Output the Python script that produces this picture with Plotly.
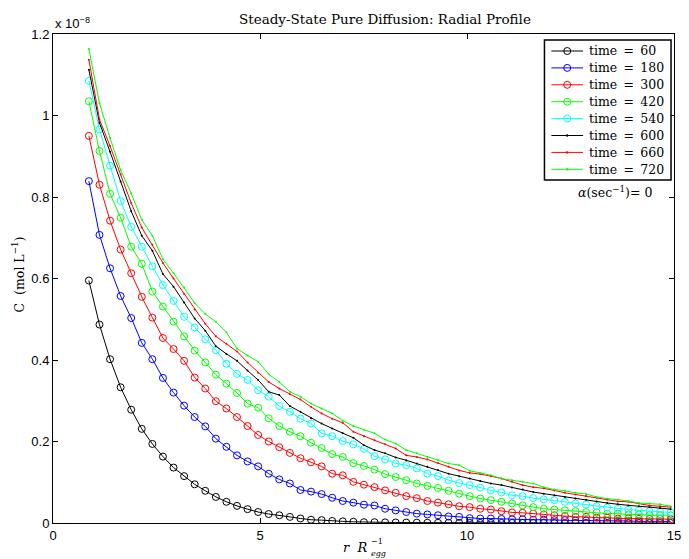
import numpy as np
import plotly.graph_objects as go

# radial positions (r / R_egg), 56 evenly spaced samples
r_start, r_end, n_pts = 0.867, 14.92, 56
r = np.linspace(r_start, r_end, n_pts)

times = [60, 180, 300, 420, 540, 600, 660, 720]

# concentrations in units of 1e-8 mol/L
c_60 = [0.595, 0.487, 0.402, 0.333, 0.278, 0.231, 0.194, 0.163, 0.136, 0.115, 0.095, 0.079, 0.064, 0.052, 0.042, 0.034, 0.027,
        0.022, 0.019, 0.015, 0.011, 0.008, 0.007, 0.005, 0.004, 0.003, 0.002,
        0.002, 0.0015, 0.0012, 0.001, 0.0008, 0.0006, 0.0005, 0.0004, 0.0003, 0.0003, 0.0002, 0.0002, 0.0001, 0.0001,
        0.0001, 0.0001, 0.0001, 0, 0, 0, 0, 0, 0, 0, 0, 0, 0, 0, 0]
c_180 = [0.839, 0.707, 0.625, 0.557, 0.503, 0.442, 0.402, 0.356, 0.320, 0.288, 0.260, 0.237, 0.207, 0.187, 0.166, 0.151, 0.139,
         0.121, 0.107, 0.097, 0.081, 0.077, 0.071, 0.062, 0.054, 0.050, 0.045,
         0.043, 0.035, 0.031, 0.027, 0.023, 0.021, 0.019, 0.016, 0.015, 0.012,
         0.011, 0.011, 0.010, 0.009, 0.009, 0.008, 0.008, 0.007, 0.007, 0.006, 0.006, 0.006, 0.005, 0.005, 0.005,
         0.004, 0.004, 0.004, 0.004]
c_300 = [0.950, 0.830, 0.742, 0.671, 0.613, 0.555, 0.504, 0.454, 0.427, 0.398, 0.357, 0.330, 0.299, 0.281, 0.260, 0.238, 0.216,
         0.200, 0.186, 0.172, 0.159, 0.149, 0.139, 0.121, 0.117, 0.101, 0.094,
         0.088, 0.080, 0.074, 0.066, 0.061, 0.054,
         0.050, 0.046, 0.041, 0.039, 0.035, 0.033, 0.029, 0.026, 0.025, 0.023, 0.021, 0.019, 0.017, 0.015, 0.015,
         0.013, 0.013, 0.011, 0.011, 0.010, 0.010, 0.010, 0.009]
c_420 = [1.035, 0.913, 0.808, 0.749, 0.678, 0.636, 0.568, 0.531, 0.494, 0.458, 0.423, 0.394, 0.364, 0.342, 0.319, 0.293, 0.283,
         0.257, 0.238, 0.224, 0.213, 0.197, 0.184, 0.169, 0.162, 0.147, 0.140,
         0.131, 0.120, 0.113, 0.105, 0.097, 0.091,
         0.086, 0.079, 0.072, 0.066, 0.060, 0.056, 0.052, 0.048, 0.043, 0.039, 0.035, 0.033, 0.031, 0.029, 0.027,
         0.026, 0.023, 0.023, 0.021, 0.021, 0.019, 0.019, 0.019]
c_540 = [1.085, 0.966, 0.877, 0.790, 0.727, 0.678, 0.630, 0.584, 0.545, 0.506, 0.480, 0.451, 0.424, 0.391, 0.366, 0.351, 0.326,
         0.310, 0.287, 0.273, 0.256, 0.244, 0.220, 0.213, 0.201, 0.193, 0.182,
         0.164, 0.156, 0.146, 0.142, 0.134, 0.121,
         0.115, 0.105, 0.098, 0.093, 0.087, 0.080, 0.075, 0.068, 0.066, 0.061, 0.058, 0.056, 0.052, 0.048, 0.045,
         0.041, 0.038, 0.035, 0.033, 0.031, 0.029, 0.027, 0.026]
c_600 = [1.112, 0.982, 0.911, 0.838, 0.765, 0.705, 0.668, 0.611, 0.580, 0.541, 0.502, 0.472, 0.434, 0.415, 0.398, 0.374, 0.351,
         0.322, 0.314, 0.287, 0.273, 0.257, 0.244, 0.232, 0.220, 0.209, 0.191,
         0.179, 0.171, 0.161, 0.154, 0.146, 0.138,
         0.130, 0.121, 0.115, 0.109, 0.103, 0.097, 0.093, 0.087, 0.082, 0.076, 0.072, 0.068, 0.064, 0.060, 0.057,
         0.053, 0.049, 0.046, 0.043, 0.041, 0.039, 0.037, 0.034]
c_660 = [1.137, 0.990, 0.925, 0.855, 0.785, 0.725, 0.683, 0.638, 0.600, 0.562, 0.524, 0.489, 0.458, 0.440, 0.421, 0.394, 0.369,
         0.346, 0.330, 0.316, 0.303, 0.285, 0.269, 0.256, 0.246, 0.224, 0.213,
         0.203, 0.193, 0.183, 0.166, 0.162, 0.156,
         0.147, 0.138, 0.129, 0.123, 0.120, 0.115, 0.109, 0.101, 0.093, 0.088, 0.085, 0.080, 0.074, 0.070, 0.066,
         0.062, 0.057, 0.053, 0.052, 0.048, 0.043, 0.041, 0.039]
c_720 = [1.163, 1.030, 0.945, 0.866, 0.809, 0.744, 0.705, 0.647, 0.613, 0.578, 0.540, 0.513, 0.494, 0.468, 0.428, 0.411, 0.396,
         0.365, 0.346, 0.322, 0.310, 0.293, 0.281, 0.269, 0.251, 0.238, 0.229,
         0.220, 0.205, 0.195, 0.179, 0.171, 0.162,
         0.154, 0.146, 0.142, 0.128, 0.123, 0.117, 0.109, 0.105, 0.101, 0.097, 0.088, 0.082, 0.079, 0.074, 0.071,
         0.064, 0.060, 0.057, 0.054, 0.049, 0.048, 0.046, 0.041]

series = [c_60, c_180, c_300, c_420, c_540, c_600, c_660, c_720]
colors = ["#000000", "#0000ff", "#ff0000", "#00ff00", "#00ffff", "#000000", "#ff0000", "#00ff00"]
open_circle = [True, True, True, True, True, False, False, False]

x_ticks = [0, 5, 10, 15]
y_ticks = [0, 0.2, 0.4, 0.6, 0.8, 1.0, 1.2]
y_tick_text = ["0", "0.2", "0.4", "0.6", "0.8", "1", "1.2"]

SERIF = "DejaVu Serif"
SANS = "Liberation Sans"

fig = go.Figure()
for t, c, col, oc in zip(times, series, colors, open_circle):
    if oc:
        marker = dict(symbol="circle-open", size=7, color=col, line=dict(width=1, color=col))
    else:
        marker = dict(symbol="circle", size=2, color=col)
    fig.add_trace(go.Scatter(
        x=r, y=c, mode="lines+markers", name=f"time = {t}",
        line=dict(color=col, width=1), marker=marker, showlegend=False,
    ))

# plot area in pixels
L, R, T, B = 53, 681, 34, 523
W, H = 689, 559


def px(xp):
    return (xp - L) / (R - L)


def py(yp):
    return (B - yp) / (B - T)


axis_common = dict(showline=True, linecolor="black", linewidth=1, mirror="ticks",
                   ticks="inside", ticklen=5, tickcolor="black", tickwidth=1,
                   showgrid=False, zeroline=False,
                   tickfont=dict(family=SANS, size=13, color="black"))

fig.update_xaxes(range=[0, 15], tickvals=x_ticks, ticktext=[str(v) for v in x_ticks], **axis_common)
fig.update_yaxes(range=[0, 1.2], tickvals=y_ticks, ticktext=y_tick_text, **axis_common)

annotations = [
    dict(text="Steady-State Pure Diffusion: Radial Profile", x=px(389), y=py(19), xanchor="center",
         yanchor="middle", font=dict(family=SERIF, size=13.5, color="black")),
    dict(text="x 10<sup>−8</sup>", x=px(53), y=py(33), xanchor="left", yanchor="bottom",
         font=dict(family=SANS, size=13, color="black")),
    dict(text="C  (mol L<sup>−1</sup>)", x=px(18), y=py(274), xanchor="center", yanchor="middle",
         textangle=-90, font=dict(family=SERIF, size=12.5, color="black")),
    dict(text="<i>r  R</i>", x=px(373), y=py(547), xanchor="right", yanchor="middle",
         font=dict(family=SERIF, size=13, color="black")),
    dict(text="−1", x=px(373), y=py(541), xanchor="left", yanchor="middle",
         font=dict(family=SERIF, size=8, color="black")),
    dict(text="<i>egg</i>", x=px(373), y=py(553), xanchor="left", yanchor="middle",
         font=dict(family=SERIF, size=8, color="black")),
    dict(text="<i>α</i>(sec<sup>−1</sup>)= 0", x=px(661), y=py(192), xanchor="right", yanchor="middle",
         font=dict(family=SERIF, size=12.5, color="black")),
]

# hand-built legend box (MATLAB style)
shapes = [dict(type="rect", xref="paper", yref="paper", x0=px(550), x1=px(678), y0=py(180), y1=py(40),
               line=dict(color="black", width=1.5), fillcolor="white", layer="above")]
for i, (t, col, oc) in enumerate(zip(times, colors, open_circle)):
    yc = py(51 + 16.9 * i)
    shapes.append(dict(type="line", xref="paper", yref="paper", x0=px(557), x1=px(589), y0=yc, y1=yc,
                       line=dict(color=col, width=1), layer="above"))
    if oc:
        shapes.append(dict(type="circle", xref="paper", yref="paper", xsizemode="pixel", ysizemode="pixel",
                           xanchor=px(573), yanchor=yc, x0=-3.5, x1=3.5, y0=-3.5, y1=3.5,
                           line=dict(color=col, width=1), fillcolor="rgba(0,0,0,0)", layer="above"))
    else:
        shapes.append(dict(type="circle", xref="paper", yref="paper", xsizemode="pixel", ysizemode="pixel",
                           xanchor=px(573), yanchor=yc, x0=-1, x1=1, y0=-1, y1=1,
                           line=dict(color=col, width=0.5), fillcolor=col, layer="above"))
    annotations.append(dict(text=f"time\u2002=\u2002{t}", x=px(593), y=yc, xanchor="left", yanchor="middle",
                            font=dict(family=SERIF, size=12.5, color="black")))

for a in annotations:
    a.update(xref="paper", yref="paper", showarrow=False)

fig.update_layout(
    width=W, height=H,
    margin=dict(l=L, r=W - R, t=T, b=H - B),
    paper_bgcolor="white", plot_bgcolor="white",
    showlegend=False,
    annotations=annotations,
    shapes=shapes,
)

fig.write_html("out.html")
